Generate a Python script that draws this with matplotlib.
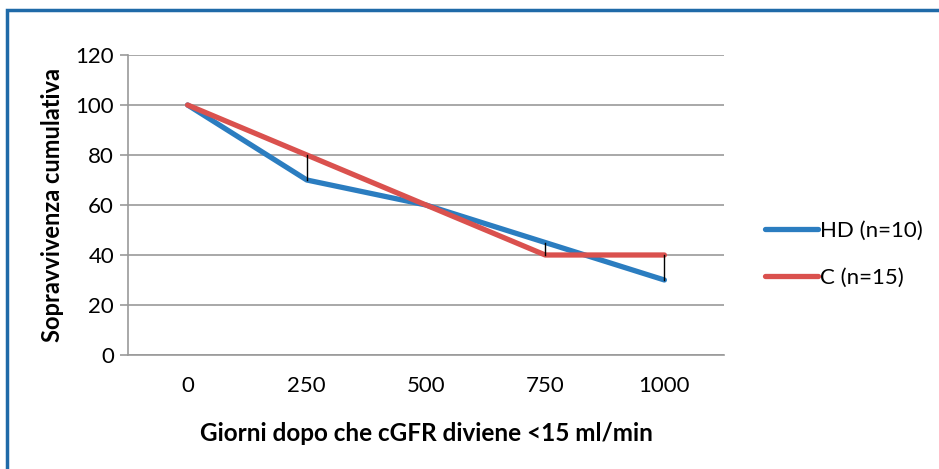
import matplotlib
matplotlib.use("Agg")
from matplotlib import pyplot as plt
from matplotlib.patches import Rectangle

days = ["0", "250", "500", "750", "1000"]
hd = [100, 70, 60, 45, 30]
c = [100, 80, 60, 40, 40]
y_ticks = [0, 20, 40, 60, 80, 100, 120]

plt.rcParams["font.family"] = ["Lato", "DejaVu Sans"]

fig = plt.figure(figsize=(9.39, 4.69), dpi=100)
ax = fig.add_axes([128 / 939, 1 - 355 / 469, (724 - 128) / 939, 300 / 469])

x = list(range(len(days)))

# high-low lines between the two series
for i in x:
    ax.plot([i, i], [min(hd[i], c[i]), max(hd[i], c[i])], color="black", lw=1.0, zorder=4)

ax.plot(x, hd, color="#2b7dc0", lw=3.8, label="HD (n=10)", zorder=3, solid_capstyle="round")
ax.plot(x, c, color="#da514e", lw=3.8, label="C (n=15)", zorder=3, solid_capstyle="round")

ax.set_xlim(-0.5, 4.5)
ax.set_ylim(0, 120)
ax.set_yticks(y_ticks)
ax.set_xticks(x)
ax.set_xticklabels(days)
ax.grid(axis="y", color="#9a9a9a", lw=1.2)
ax.set_axisbelow(True)
for s in ["top", "right"]:
    ax.spines[s].set_visible(False)
for s in ["left", "bottom"]:
    ax.spines[s].set_color("#9a9a9a")
    ax.spines[s].set_linewidth(1.2)
ax.tick_params(axis="y", length=6, color="#9a9a9a", width=1.2, labelsize=16, pad=4)
ax.tick_params(axis="x", length=0, labelsize=16, pad=15)

ax.set_ylabel("Sopravvivenza cumulativa", fontsize=17, fontweight="bold", labelpad=8)
ax.set_xlabel("Giorni dopo che cGFR diviene <15 ml/min", fontsize=17.5, fontweight="bold", labelpad=19)

fig.legend(loc="upper left", bbox_to_anchor=(756 / 939, 1 - 212 / 469), frameon=False,
           borderaxespad=0, fontsize=16, handlelength=2.4, handletextpad=0.1, labelspacing=1.2)

# outer blue frame, cut off at right and bottom
fig.patches.append(Rectangle((7 / 939, -0.1), 1.1, 1 - 10 / 469 + 0.1, transform=fig.transFigure,
                             fill=False, edgecolor="#1f6aa8", lw=2.5))

fig.savefig("out.png", dpi=100)
